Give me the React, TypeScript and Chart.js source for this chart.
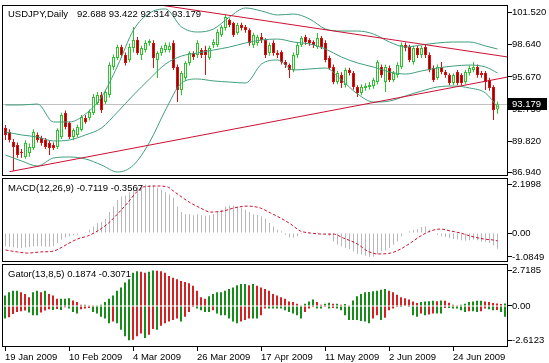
import React, { useEffect, useRef } from 'react';
import { Chart, registerables } from 'chart.js';
Chart.register(...registerables);

const FONT = '"Liberation Sans", Arial, sans-serif';
const FSIZE = 9.5;

// ---------- DATA ----------
const symbolName = 'USDJPY,Daily';
const macdName = 'MACD(12,26,9)';
const gatorName = 'Gator(13,8,5)';

const opens = [91.02,90.65,89.74,89.47,88.85,88.37,88.74,89.20,90.38,90.11,89.92,89.65,89.47,89.29,90.20,92.38,91.47,90.20,90.38,90.84,91.93,91.93,92.38,93.29,94.02,93.38,94.02,96.58,97.40,98.40,97.67,97.21,98.31,99.04,97.67,98.13,98.76,98.76,97.21,97.85,98.13,98.13,98.76,96.58,94.48,95.57,96.94,97.85,97.67,98.13,98.13,97.40,98.58,98.58,99.49,100.13,100.86,100.58,99.67,100.40,100.22,99.95,98.58,98.76,99.31,99.04,97.85,98.76,97.85,97.94,97.03,96.76,96.30,97.67,98.58,99.31,99.04,98.85,98.40,99.22,98.76,97.40,96.58,95.21,95.85,94.94,96.30,96.03,94.75,94.21,94.66,94.75,94.84,95.21,96.58,95.21,96.49,95.39,95.85,96.58,98.58,98.40,97.03,98.31,97.67,98.40,97.67,96.49,95.57,96.58,96.12,95.85,95.12,96.12,95.85,95.21,96.03,96.30,96.58,96.03,96.03,95.39,94.75,92.688];
const highs = [91.29,90.90,90.00,89.70,89.10,89.90,89.60,90.90,90.60,90.30,90.10,89.90,89.70,91.00,92.40,92.60,91.60,91.00,91.30,92.20,92.20,92.70,94.10,94.30,94.30,94.50,97.00,97.70,98.60,98.60,97.90,98.70,100.22,99.30,98.50,99.00,99.10,99.00,98.00,98.50,98.80,98.80,99.00,96.80,96.20,97.10,98.00,98.00,99.00,98.30,98.50,98.50,99.10,100.00,100.40,101.31,101.00,100.70,100.60,100.60,100.40,100.10,99.70,99.50,99.67,99.20,98.80,99.00,98.10,98.10,97.20,96.90,97.90,98.80,99.40,99.50,99.20,99.00,99.67,99.40,99.00,97.60,96.80,96.20,96.10,96.50,96.50,96.20,94.90,95.00,95.10,95.20,95.60,97.20,96.80,96.80,96.70,96.20,97.00,98.80,98.80,98.60,98.50,98.50,98.50,98.60,97.90,96.70,96.80,97.03,96.30,96.00,96.00,96.30,96.00,96.30,96.70,97.03,96.80,96.20,96.20,95.60,94.90,93.422];
const lows = [89.92,89.70,87.10,88.30,88.30,88.20,88.40,89.00,89.70,89.40,89.10,88.56,89.00,89.10,90.00,90.90,90.00,89.90,90.20,90.70,91.40,91.70,92.20,93.10,92.38,93.20,93.80,96.30,97.20,97.40,96.70,97.00,97.90,97.67,97.21,97.90,98.50,96.49,95.57,97.60,97.90,97.90,96.30,93.38,94.00,95.30,96.70,97.20,97.40,97.40,95.85,97.20,98.30,98.40,99.30,99.90,100.20,99.30,99.50,99.90,99.70,98.50,98.30,98.50,98.76,97.40,97.60,97.60,97.40,96.80,96.49,95.57,96.10,97.40,98.40,98.60,98.50,98.30,98.20,98.20,97.00,96.30,95.00,95.00,94.66,94.70,95.80,94.50,93.84,94.00,94.40,94.50,94.60,95.00,95.60,94.30,95.20,95.20,95.60,96.40,98.00,97.00,96.80,97.40,97.40,97.40,96.10,95.20,95.40,95.90,95.60,94.90,94.90,94.90,94.90,95.00,95.80,96.10,95.60,95.60,94.48,94.40,91.75,92.314];
const closes = [90.38,89.92,89.29,88.56,88.74,89.65,89.29,90.65,89.92,89.65,89.29,89.20,89.20,90.84,92.20,91.11,90.20,90.84,91.11,92.02,91.56,92.47,93.84,94.02,92.65,94.30,96.76,97.49,98.40,97.67,96.94,98.40,99.04,97.85,98.31,98.76,98.95,97.40,97.85,98.31,98.58,98.49,96.49,94.48,96.03,96.94,97.85,97.49,98.76,97.67,97.67,98.31,98.85,99.77,100.22,101.13,100.40,99.49,100.40,100.13,99.95,98.76,99.49,99.31,99.04,97.67,98.58,97.85,97.67,97.03,96.76,96.30,97.67,98.58,99.22,98.85,98.76,98.58,99.22,98.40,97.21,96.49,95.21,96.03,95.12,96.30,96.03,94.75,94.21,94.75,94.84,94.94,95.39,97.03,95.85,96.58,95.39,96.03,96.76,98.58,98.31,97.21,98.31,97.67,98.31,97.67,96.30,95.39,96.58,96.12,95.85,95.12,95.85,95.12,95.12,96.12,96.49,96.58,95.85,95.85,95.21,94.66,92.65,93.179];

// Bollinger Bands (20,2), read at sampled bars
const bandIdx = [0,4,8,12,16,20,24,28,32,36,40,44,48,52,56,60,64,68,72,76,80,84,88,92,96,100,104,108,112,116,120,123];
const bbUpper = [93.11,93.11,93.20,91.56,91.56,92.29,93.84,96.66,99.94,101.49,101.86,100.22,99.76,100.03,101.13,101.95,101.68,101.31,101.40,100.95,100.03,99.85,99.85,99.58,98.85,98.39,98.58,98.76,98.85,98.85,98.49,98.21];
const bbMiddle = [90.65,90.38,90.19,89.83,89.92,90.38,91.01,92.47,94.02,95.48,96.84,97.57,97.85,98.12,98.39,98.76,99.03,99.12,98.85,98.67,98.21,97.48,96.94,96.57,96.12,95.93,96.21,96.48,96.66,96.75,96.57,96.03];
const bbLower = [88.55,88.01,87.55,88.28,88.37,88.19,87.64,87.00,87.64,89.71,92.65,95.11,95.48,95.30,95.20,95.11,96.84,97.21,96.30,96.39,96.48,95.39,94.11,93.38,93.47,93.93,94.38,94.75,94.84,94.66,94.20,92.93];

// Trend lines (bar index, price)
const supportIdx = [1.0, 125.6];
const supportPrice = [87.03, 95.66];
const resistIdx = [39.4, 125.6];
const resistPrice = [102.18, 97.48];

// MACD histogram per bar and signal line (sampled)
const macdHist = [-0.60,-0.62,-0.65,-0.68,-0.68,-0.66,-0.64,-0.60,-0.60,-0.60,-0.62,-0.62,-0.60,
  -0.45,-0.30,-0.20,-0.15,-0.10,-0.08,0.00,0.05,0.15,0.30,0.45,0.50,
  0.65,0.95,1.20,1.50,1.65,1.70,1.85,2.05,2.10,2.15,2.1998,2.18,
  2.15,2.05,1.95,1.85,1.75,1.60,1.20,0.95,0.85,0.85,0.80,0.85,
  0.80,0.78,0.80,0.85,0.95,1.05,1.20,1.25,1.25,1.20,1.15,1.05,
  0.95,0.85,0.80,0.75,0.65,0.45,0.30,0.15,0.08,-0.08,-0.20,-0.22,
  -0.15,-0.05,0.00,-0.05,-0.02,0.05,0.02,-0.03,-0.15,-0.38,-0.53,-0.60,
  -0.68,-0.72,-0.83,-0.94,-0.98,-1.03,-1.0849,-1.06,-0.98,-0.83,-0.79,-0.68,
  -0.53,-0.38,-0.15,0.00,0.08,0.15,0.18,0.27,0.30,0.15,0.00,-0.08,
  -0.15,-0.18,-0.23,-0.27,-0.30,-0.33,-0.35,-0.33,-0.30,-0.33,-0.38,-0.41,
  -0.45,-0.55,-0.7119];
const macdSigIdx = [0,3,5.5,8.75,12,13.25,15.5,18,20.5,23,25.5,28,30.5,33,34.5,38,40.5,42,45.5,48.75,51.25,54.5,57,60.5,63.75,66.25,68.75,71.25,73.75,76.25,79.5,82,84.5,88,90.5,93,96.25,98.75,101.25,103.75,106.25,108.75,111.25,113.75,116.25,119.5,122,123];
const macdSig = [-0.77,-0.86,-0.91,-0.86,-0.82,-0.73,-0.50,-0.27,-0.14,0.09,0.41,0.86,1.36,1.90,2.09,2.13,2.09,1.90,1.45,1.13,0.95,1.00,1.13,1.22,1.13,0.91,0.68,0.41,0.09,0.00,-0.05,-0.05,-0.23,-0.50,-0.82,-0.95,-0.91,-0.73,-0.45,-0.14,0.09,0.18,0.09,0.00,-0.14,-0.27,-0.32,-0.3567];

// Gator oscillator (upper / lower histograms), extends past last bar
const gatorUp = [0.80,1.05,1.17,1.17,1.05,0.92,0.67,1.05,1.17,1.05,1.17,0.92,0.80,
  0.55,0.55,0.55,0.60,0.42,0.30,0.10,0.10,0.05,0.02,0.05,0.10,
  0.30,0.55,0.80,1.17,1.42,1.79,2.04,2.54,2.66,2.61,2.54,2.61,
  2.7185,2.70,2.66,2.54,2.29,2.16,2.04,1.91,1.84,1.74,1.54,1.17,
  0.67,0.55,0.74,0.92,1.05,1.05,1.17,1.29,1.42,1.59,1.67,1.67,
  1.59,1.67,1.54,1.42,1.29,1.17,0.92,0.80,0.67,0.55,0.35,0.30,
  0.17,0.05,0.17,0.35,0.50,0.30,0.10,0.17,0.25,0.17,0.17,0.10,
  0.15,0.02,0.42,0.74,0.92,1.05,1.07,1.12,1.17,1.24,1.29,1.17,
  1.05,0.85,0.67,0.60,0.50,0.35,0.22,0.30,0.35,0.37,0.40,0.37,
  0.42,0.40,0.25,0.10,0.05,0.10,0.17,0.30,0.35,0.40,0.40,0.35,
  0.30,0.22,0.1874,0.15,0.20];
const gatorDown = [-0.95,-0.85,-0.62,-0.45,-0.40,-0.35,-0.50,-0.70,-0.70,-0.50,-0.35,-0.25,-0.30,
  -0.22,-0.30,-0.10,-0.20,-0.45,-0.57,-0.25,-0.20,-0.15,-0.45,-0.57,-0.82,
  -0.95,-1.32,-1.19,-1.32,-1.82,-2.30,-2.6123,-2.58,-2.30,-2.10,-2.45,-2.20,
  -1.75,-1.82,-1.50,-1.32,-1.19,-1.07,-0.95,-1.19,-0.82,-0.45,-0.07,-0.20,
  -0.32,-0.45,-0.45,-0.32,-0.57,-0.70,-0.70,-0.95,-1.19,-1.32,-1.19,-1.07,
  -0.95,-0.95,-0.95,-0.70,-0.20,-0.20,-0.20,-0.20,-0.20,-0.32,-0.45,-0.57,
  -0.70,-0.95,-0.45,-0.20,-0.07,-0.20,-0.20,-0.07,-0.20,-0.15,-0.20,-0.32,
  -0.70,-1.07,-1.07,-1.07,-1.14,-1.19,-1.32,-0.95,-0.70,-1.07,-0.90,-0.32,
  -0.20,-0.07,-0.07,-0.03,-0.07,-0.70,-0.82,-0.57,-0.70,-0.65,-0.57,-0.57,
  -0.57,-0.15,-0.15,-0.20,-0.20,-0.32,-0.45,-0.40,-0.40,-0.45,-0.40,-0.20,
  -0.25,-0.32,-0.3071,-0.45,-0.82];

// Axis ticks
const mainTicks = [101.52, 98.64, 95.67, 92.75, 89.82, 86.94];
const mainTickLabels = ['101.520', '98.640', '95.670', '92.750', '89.820', '86.940'];
const macdTicks = [2.1998, 0, -1.0849];
const macdTickLabels = ['2.1998', '0.00', '-1.0849'];
const gatorTicks = [2.7185, 0, -2.6123];
const gatorTickLabels = ['2.7185', '0.00', '-2.6123'];
const dateTickIdx = [0, 16, 32, 48, 64, 80, 96, 112];
const dateTickLabels = ['19 Jan 2009', '10 Feb 2009', '4 Mar 2009', '26 Mar 2009', '17 Apr 2009', '11 May 2009', '2 Jun 2009', '24 Jun 2009'];

// ---------- STYLE ----------
const BULL = '#2cc42c';
const BEAR_EDGE = '#d81010';
const BEAR_FILL = '#8c0000';
const BAND = '#3f9e7a';
const TREND = '#cc1133';
const SIGNAL = '#cc1133';
const HIST = '#b8b8b8';
const G_GREEN = '#188c18';
const G_RED = '#d42222';

const font = { family: FONT, size: FSIZE };

function yAxis(min: number, max: number, ticks: number[], labels: string[]) {
  return {
    type: 'linear', position: 'right', min, max,
    afterBuildTicks: (s: any) => { s.ticks = ticks.map((v) => ({ value: v })); },
    afterFit: (s: any) => { s.width = 41; s.paddingTop = 0; s.paddingBottom = 0; },
    ticks: { autoSkip: false, padding: 0, color: '#000', font, callback: (_v: any, i: number) => labels[i] },
    grid: { drawOnChartArea: false, drawTicks: true, tickLength: 4, color: '#000', offset: false },
    border: { display: false },
  };
}

function hiddenX(min: number, max: number) {
  return { type: 'linear', min, max, display: false, offset: false, grid: { offset: false } };
}

const framePlugin = {
  id: 'frame',
  afterDraw(chart: any) {
    const { ctx, chartArea: a } = chart;
    ctx.save();
    ctx.strokeStyle = '#000';
    ctx.lineWidth = 1;
    ctx.strokeRect(a.left + 0.5, a.top + 0.5, a.right - a.left - 1, a.bottom - a.top - 1);
    ctx.restore();
  },
};

function titlePlugin(parts: { x: number; text: string }[], y: number) {
  return {
    id: 'title_' + parts[0].text,
    afterDatasetsDraw(chart: any) {
      const ctx = chart.ctx;
      ctx.save();
      ctx.font = `${FSIZE}px ${FONT}`;
      ctx.fillStyle = '#000';
      ctx.textAlign = 'left';
      ctx.textBaseline = 'middle';
      parts.forEach((p) => ctx.fillText(p.text, p.x, y));
      ctx.restore();
    },
  };
}

const N = closes.length;
const last = N - 1;
const fmt3 = (v: number) => v.toFixed(3);

const bidPlugin = {
  id: 'bid',
  beforeDatasetsDraw(chart: any) {
    const { ctx, chartArea: a, scales } = chart;
    const y = Math.round(scales.y.getPixelForValue(closes[last])) + 0.5;
    ctx.save();
    ctx.strokeStyle = '#c0c0c0';
    ctx.lineWidth = 1;
    ctx.beginPath();
    ctx.moveTo(a.left, y);
    ctx.lineTo(a.right, y);
    ctx.stroke();
    ctx.restore();
  },
  afterDraw(chart: any) {
    const { ctx, chartArea: a, scales } = chart;
    const y = Math.round(scales.y.getPixelForValue(closes[last]));
    ctx.save();
    ctx.fillStyle = '#000';
    ctx.fillRect(a.right, y - 6, 39, 12);
    ctx.fillStyle = '#fff';
    ctx.font = `${FSIZE}px ${FONT}`;
    ctx.textAlign = 'left';
    ctx.textBaseline = 'middle';
    ctx.fillText(fmt3(closes[last]), a.right + 4, y + 0.5);
    ctx.restore();
  },
};

const idx = closes.map((_, i) => i);
const isUp = (i: number) => closes[i] >= opens[i];

function mainConfig(): any {
  const line = (xs: number[], ys: number[], color: string, order: number, smooth: boolean) => ({
    type: 'line',
    data: xs.map((x, k) => ({ x, y: ys[k] })),
    borderColor: color, borderWidth: 1, pointRadius: 0,
    cubicInterpolationMode: smooth ? 'monotone' : 'default',
    order,
  });
  return {
    type: 'bar',
    data: {
      datasets: [
        line(bandIdx, bbUpper, BAND, 1, true),
        line(bandIdx, bbMiddle, BAND, 1, true),
        line(bandIdx, bbLower, BAND, 1, true),
        line(supportIdx, supportPrice, TREND, 0, false),
        line(resistIdx, resistPrice, TREND, 0, false),
        {
          type: 'bar',
          data: idx.map((i) => ({ x: i, y: [lows[i], highs[i]] })),
          backgroundColor: idx.map((i) => (isUp(i) ? BULL : BEAR_EDGE)),
          borderWidth: 0, barThickness: 1, inflateAmount: 0, grouped: false, order: 3,
        },
        {
          type: 'bar',
          data: idx.map((i) => ({ x: i, y: [opens[i], closes[i]] })),
          backgroundColor: idx.map((i) => (isUp(i) ? '#ffffff' : BEAR_FILL)),
          borderColor: idx.map((i) => (isUp(i) ? BULL : BEAR_EDGE)),
          borderWidth: 1, borderSkipped: false, barThickness: 3, inflateAmount: 0,
          minBarLength: 1, grouped: false, order: 2,
        },
      ],
    },
    options: {
      responsive: false, animation: false, devicePixelRatio: 1, events: [],
      layout: { padding: { left: 2, right: 0, top: 5, bottom: 1 } },
      plugins: { legend: { display: false }, tooltip: { enabled: false } },
      scales: {
        x: hiddenX(-0.875, 125.625),
        y: yAxis(86.638, 102.221, mainTicks, mainTickLabels),
      },
    },
    plugins: [
      bidPlugin,
      framePlugin,
      titlePlugin([
        { x: 8, text: symbolName },
        { x: 77, text: [opens[last], highs[last], lows[last], closes[last]].map(fmt3).join(' ') },
      ], 14),
    ],
  };
}

function macdConfig(): any {
  return {
    type: 'bar',
    data: {
      datasets: [
        {
          type: 'line',
          data: macdSigIdx.map((x, k) => ({ x, y: macdSig[k] })),
          borderColor: SIGNAL, borderWidth: 1, borderDash: [3, 2], pointRadius: 0,
          cubicInterpolationMode: 'monotone', order: 0,
        },
        {
          type: 'bar',
          data: macdHist.map((v, i) => ({ x: i, y: v })),
          backgroundColor: HIST, borderWidth: 0, barThickness: 1, inflateAmount: 0,
          grouped: false, order: 1,
        },
      ],
    },
    options: {
      responsive: false, animation: false, devicePixelRatio: 1, events: [],
      layout: { padding: { left: 2, right: 0, top: 1, bottom: 1 } },
      plugins: { legend: { display: false }, tooltip: { enabled: false } },
      scales: {
        x: hiddenX(-0.875, 125.625),
        y: yAxis(-1.315, 2.494, macdTicks, macdTickLabels),
      },
    },
    plugins: [
      framePlugin,
      titlePlugin([{ x: 8, text: `${macdName} ${macdHist[last].toFixed(4)} ${macdSig[macdSig.length - 1].toFixed(4)}` }], 11.5),
    ],
  };
}

function gatorConfig(): any {
  const upColors = gatorUp.map((v, i) => (i === 0 || Math.abs(v) >= Math.abs(gatorUp[i - 1]) ? G_GREEN : G_RED));
  const dnColors = gatorDown.map((v, i) => (i === 0 || Math.abs(v) >= Math.abs(gatorDown[i - 1]) ? G_GREEN : G_RED));
  return {
    type: 'bar',
    data: {
      datasets: [
        {
          type: 'bar', data: gatorUp.map((v, i) => ({ x: i, y: v })),
          backgroundColor: upColors, borderWidth: 0, barThickness: 2, inflateAmount: 0, grouped: false,
        },
        {
          type: 'bar', data: gatorDown.map((v, i) => ({ x: i, y: v })),
          backgroundColor: dnColors, borderWidth: 0, barThickness: 2, inflateAmount: 0, grouped: false,
        },
      ],
    },
    options: {
      responsive: false, animation: false, devicePixelRatio: 1, events: [],
      layout: { padding: { left: 2, right: 0, top: 1, bottom: 0 } },
      plugins: { legend: { display: false }, tooltip: { enabled: false } },
      scales: {
        x: {
          type: 'linear', min: -0.75, max: 125.75, position: 'bottom', offset: false,
          afterBuildTicks: (s: any) => { s.ticks = dateTickIdx.map((v) => ({ value: v })); },
          afterFit: (s: any) => { s.height = 16; s.paddingLeft = 0; s.paddingRight = 0; },
          ticks: {
            autoSkip: false, maxRotation: 0, minRotation: 0, align: 'start', padding: 1,
            color: '#000', font, callback: (_v: any, i: number) => dateTickLabels[i],
          },
          grid: { drawOnChartArea: false, drawTicks: true, tickLength: 4, color: '#000', offset: false },
          border: { display: false },
        },
        y: yAxis(-3.13, 3.206, gatorTicks, gatorTickLabels),
      },
    },
    plugins: [
      framePlugin,
      titlePlugin([{ x: 8, text: `${gatorName} ${gatorUp[last].toFixed(4)} ${gatorDown[last].toFixed(4)}` }], 11.5),
    ],
  };
}

export default function App() {
  const r1 = useRef<HTMLCanvasElement>(null);
  const r2 = useRef<HTMLCanvasElement>(null);
  const r3 = useRef<HTMLCanvasElement>(null);

  useEffect(() => {
    const c1 = new Chart(r1.current as HTMLCanvasElement, mainConfig());
    const c2 = new Chart(r2.current as HTMLCanvasElement, macdConfig());
    const c3 = new Chart(r3.current as HTMLCanvasElement, gatorConfig());
    return () => { c1.destroy(); c2.destroy(); c3.destroy(); };
  }, []);

  return (
    <div style={{ position: 'fixed', left: 0, top: 0, width: 549, height: 363, background: '#fff', overflow: 'hidden' }}>
      <canvas ref={r1} width={549} height={177} style={{ position: 'absolute', left: 0, top: 0 }} />
      <canvas ref={r2} width={549} height={86} style={{ position: 'absolute', left: 0, top: 177 }} />
      <canvas ref={r3} width={549} height={100} style={{ position: 'absolute', left: 0, top: 263 }} />
    </div>
  );
}
